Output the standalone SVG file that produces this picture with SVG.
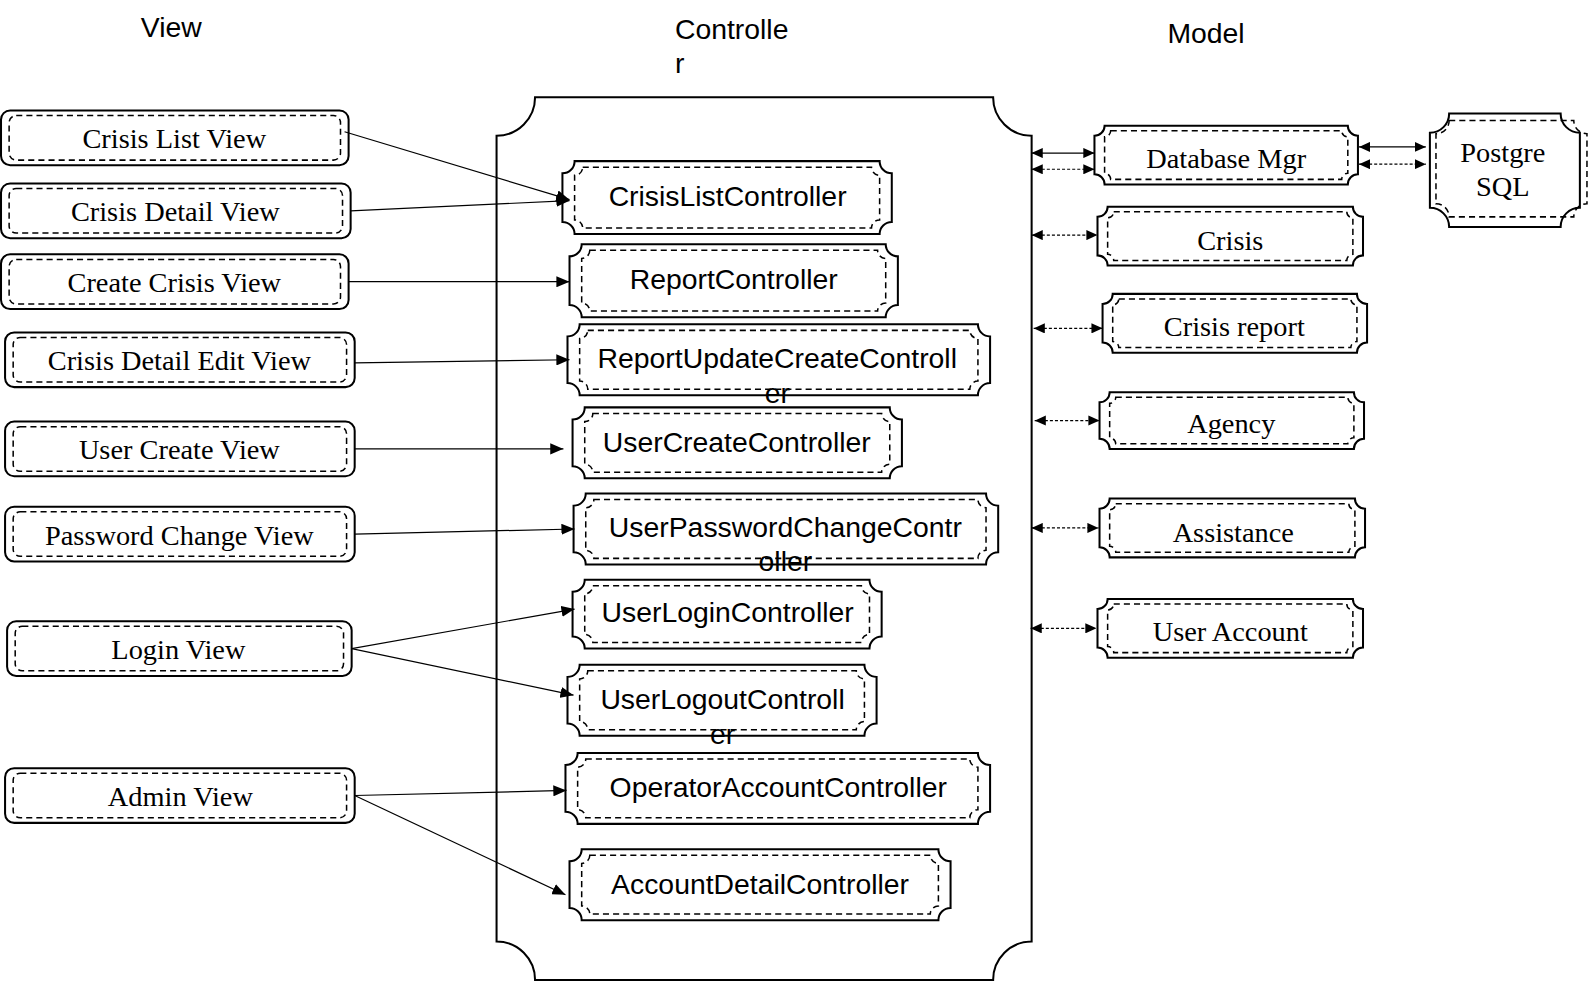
<svg xmlns="http://www.w3.org/2000/svg" width="1589" height="981" viewBox="0 0 1589 981">
<style>
.ob{fill:#fff;stroke:#000;stroke-width:2}
.ib{fill:none;stroke:#000;stroke-width:1.5;stroke-dasharray:6 4}
.st{font-family:"Liberation Serif",serif;font-size:28px;text-anchor:middle;dominant-baseline:central;fill:#000}
.ss{font-family:"Liberation Sans",sans-serif;font-size:28px;text-anchor:middle;dominant-baseline:central;fill:#000}
.hd{font-family:"Liberation Sans",sans-serif;font-size:28px;fill:#000}
.cn{stroke:#000;stroke-width:1.2;fill:none}
.dt{stroke-dasharray:3 2}
</style>
<defs>
<marker id="ah" viewBox="0 0 13 11" refX="13" refY="5.5" markerWidth="13" markerHeight="11" markerUnits="userSpaceOnUse" orient="auto"><path d="M0,0 L13,5.5 L0,11 Z" fill="#000"/></marker>
<marker id="am" viewBox="0 0 11 10" refX="11" refY="5" markerWidth="11" markerHeight="10" markerUnits="userSpaceOnUse" orient="auto-start-reverse"><path d="M0,0 L11,5 L0,10 Z" fill="#000"/></marker>
</defs>
<rect width="1589" height="981" fill="#fff"/>
<g transform="scale(1.01339)">
<g id="titles">
<text class="hd" x="139" y="37">View</text>
<text class="hd" x="666" y="38">Controlle</text>
<text class="hd" x="666" y="72">r</text>
<text class="hd" x="1152" y="42">Model</text>
</g>
<g id="controller-layer">
<path class="ob" d="M528,96 H980 A38,38 0 0 0 1018,134 V929 A38,38 0 0 0 980,967 H528 A38,38 0 0 0 490,929 V134 A38,38 0 0 0 528,96 Z"/>
</g>
<g id="view-crisis-list"><rect class="ob" x="1" y="109" width="343" height="54" rx="9"/><rect class="ib" x="9" y="114" width="327" height="44" rx="7"/><text class="st" x="172" y="137">Crisis List View</text></g>
<g id="view-crisis-detail"><rect class="ob" x="1" y="181" width="345" height="54" rx="9"/><rect class="ib" x="9" y="186" width="329" height="44" rx="7"/><text class="st" x="173" y="209">Crisis Detail View</text></g>
<g id="view-create-crisis"><rect class="ob" x="1" y="251" width="343" height="54" rx="9"/><rect class="ib" x="9" y="256" width="327" height="44" rx="7"/><text class="st" x="172" y="279">Create Crisis View</text></g>
<g id="view-crisis-detail-edit"><rect class="ob" x="5" y="328" width="345" height="54" rx="9"/><rect class="ib" x="13" y="333" width="329" height="44" rx="7"/><text class="st" x="177" y="356">Crisis Detail Edit View</text></g>
<g id="view-user-create"><rect class="ob" x="5" y="416" width="345" height="54" rx="9"/><rect class="ib" x="13" y="421" width="329" height="44" rx="7"/><text class="st" x="177" y="444">User Create View</text></g>
<g id="view-password-change"><rect class="ob" x="5" y="500" width="345" height="54" rx="9"/><rect class="ib" x="13" y="505" width="329" height="44" rx="7"/><text class="st" x="177" y="528">Password Change View</text></g>
<g id="view-login"><rect class="ob" x="7" y="613" width="340" height="54" rx="9"/><rect class="ib" x="15" y="618" width="324" height="44" rx="7"/><text class="st" x="176" y="641">Login View</text></g>
<g id="view-admin"><rect class="ob" x="5" y="758" width="345" height="54" rx="9"/><rect class="ib" x="13" y="763" width="329" height="44" rx="7"/><text class="st" x="178" y="786">Admin View</text></g>

<g id="ctrl-crisis-list"><path class="ob" d="M567,159 H868 A12,12 0 0 0 880,171 V219 A12,12 0 0 0 868,231 H567 A12,12 0 0 0 555,219 V171 A12,12 0 0 0 567,159 Z"/><path class="ib" d="M575,165 H860 A8,8 0 0 0 868,173 V217 A8,8 0 0 0 860,225 H575 A8,8 0 0 0 567,217 V173 A8,8 0 0 0 575,165 Z"/><text class="ss" x="718" y="193">CrisisListController</text></g>
<g id="ctrl-report"><path class="ob" d="M574,241 H874 A12,12 0 0 0 886,253 V301 A12,12 0 0 0 874,313 H574 A12,12 0 0 0 562,301 V253 A12,12 0 0 0 574,241 Z"/><path class="ib" d="M582,247 H866 A8,8 0 0 0 874,255 V299 A8,8 0 0 0 866,307 H582 A8,8 0 0 0 574,299 V255 A8,8 0 0 0 582,247 Z"/><text class="ss" x="724" y="275">ReportController</text></g>
<g id="ctrl-report-update-create"><path class="ob" d="M572,320 H965 A12,12 0 0 0 977,332 V378 A12,12 0 0 0 965,390 H572 A12,12 0 0 0 560,378 V332 A12,12 0 0 0 572,320 Z"/><path class="ib" d="M580,326 H957 A8,8 0 0 0 965,334 V376 A8,8 0 0 0 957,384 H580 A8,8 0 0 0 572,376 V334 A8,8 0 0 0 580,326 Z"/><text class="ss" x="767" y="353">ReportUpdateCreateControll</text><text class="ss" x="767" y="388">er</text></g>
<g id="ctrl-user-create"><path class="ob" d="M577,402 H878 A12,12 0 0 0 890,414 V460 A12,12 0 0 0 878,472 H577 A12,12 0 0 0 565,460 V414 A12,12 0 0 0 577,402 Z"/><path class="ib" d="M585,408 H870 A8,8 0 0 0 878,416 V458 A8,8 0 0 0 870,466 H585 A8,8 0 0 0 577,458 V416 A8,8 0 0 0 585,408 Z"/><text class="ss" x="727" y="436">UserCreateController</text></g>
<g id="ctrl-user-password-change"><path class="ob" d="M578,487 H973 A12,12 0 0 0 985,499 V545 A12,12 0 0 0 973,557 H578 A12,12 0 0 0 566,545 V499 A12,12 0 0 0 578,487 Z"/><path class="ib" d="M586,493 H965 A8,8 0 0 0 973,501 V543 A8,8 0 0 0 965,551 H586 A8,8 0 0 0 578,543 V501 A8,8 0 0 0 586,493 Z"/><text class="ss" x="775" y="520">UserPasswordChangeContr</text><text class="ss" x="775" y="554">oller</text></g>
<g id="ctrl-user-login"><path class="ob" d="M577,572 H858 A12,12 0 0 0 870,584 V628 A12,12 0 0 0 858,640 H577 A12,12 0 0 0 565,628 V584 A12,12 0 0 0 577,572 Z"/><path class="ib" d="M585,578 H850 A8,8 0 0 0 858,586 V626 A8,8 0 0 0 850,634 H585 A8,8 0 0 0 577,626 V586 A8,8 0 0 0 585,578 Z"/><text class="ss" x="718" y="604">UserLoginController</text></g>
<g id="ctrl-user-logout"><path class="ob" d="M572,656 H853 A12,12 0 0 0 865,668 V714 A12,12 0 0 0 853,726 H572 A12,12 0 0 0 560,714 V668 A12,12 0 0 0 572,656 Z"/><path class="ib" d="M580,662 H845 A8,8 0 0 0 853,670 V712 A8,8 0 0 0 845,720 H580 A8,8 0 0 0 572,712 V670 A8,8 0 0 0 580,662 Z"/><text class="ss" x="713" y="690">UserLogoutControll</text><text class="ss" x="713" y="724">er</text></g>
<g id="ctrl-operator-account"><path class="ob" d="M570,743 H965 A12,12 0 0 0 977,755 V801 A12,12 0 0 0 965,813 H570 A12,12 0 0 0 558,801 V755 A12,12 0 0 0 570,743 Z"/><path class="ib" d="M578,749 H957 A8,8 0 0 0 965,757 V799 A8,8 0 0 0 957,807 H578 A8,8 0 0 0 570,799 V757 A8,8 0 0 0 578,749 Z"/><text class="ss" x="768" y="777">OperatorAccountController</text></g>
<g id="ctrl-account-detail"><path class="ob" d="M574,838 H926 A12,12 0 0 0 938,850 V896 A12,12 0 0 0 926,908 H574 A12,12 0 0 0 562,896 V850 A12,12 0 0 0 574,838 Z"/><path class="ib" d="M582,844 H918 A8,8 0 0 0 926,852 V894 A8,8 0 0 0 918,902 H582 A8,8 0 0 0 574,894 V852 A8,8 0 0 0 582,844 Z"/><text class="ss" x="750" y="872">AccountDetailController</text></g>

<g id="model-database-mgr"><path class="ob" d="M1090,124 H1330 A10,10 0 0 0 1340,134 V172 A10,10 0 0 0 1330,182 H1090 A10,10 0 0 0 1080,172 V134 A10,10 0 0 0 1090,124 Z"/><path class="ib" d="M1096,129 H1324 A6,6 0 0 0 1330,135 V171 A6,6 0 0 0 1324,177 H1096 A6,6 0 0 0 1090,171 V135 A6,6 0 0 0 1096,129 Z"/><text class="st" x="1210" y="156">Database Mgr</text></g>
<g id="model-crisis"><path class="ob" d="M1093,204 H1335 A10,10 0 0 0 1345,214 V252 A10,10 0 0 0 1335,262 H1093 A10,10 0 0 0 1083,252 V214 A10,10 0 0 0 1093,204 Z"/><path class="ib" d="M1099,209 H1329 A6,6 0 0 0 1335,215 V251 A6,6 0 0 0 1329,257 H1099 A6,6 0 0 0 1093,251 V215 A6,6 0 0 0 1099,209 Z"/><text class="st" x="1214" y="237">Crisis</text></g>
<g id="model-crisis-report"><path class="ob" d="M1098,290 H1339 A10,10 0 0 0 1349,300 V338 A10,10 0 0 0 1339,348 H1098 A10,10 0 0 0 1088,338 V300 A10,10 0 0 0 1098,290 Z"/><path class="ib" d="M1104,295 H1333 A6,6 0 0 0 1339,301 V337 A6,6 0 0 0 1333,343 H1104 A6,6 0 0 0 1098,337 V301 A6,6 0 0 0 1104,295 Z"/><text class="st" x="1218" y="322">Crisis report</text></g>
<g id="model-agency"><path class="ob" d="M1095,387 H1336 A10,10 0 0 0 1346,397 V433 A10,10 0 0 0 1336,443 H1095 A10,10 0 0 0 1085,433 V397 A10,10 0 0 0 1095,387 Z"/><path class="ib" d="M1101,392 H1330 A6,6 0 0 0 1336,398 V432 A6,6 0 0 0 1330,438 H1101 A6,6 0 0 0 1095,432 V398 A6,6 0 0 0 1101,392 Z"/><text class="st" x="1215" y="418">Agency</text></g>
<g id="model-assistance"><path class="ob" d="M1095,492 H1337 A10,10 0 0 0 1347,502 V540 A10,10 0 0 0 1337,550 H1095 A10,10 0 0 0 1085,540 V502 A10,10 0 0 0 1095,492 Z"/><path class="ib" d="M1101,497 H1331 A6,6 0 0 0 1337,503 V539 A6,6 0 0 0 1331,545 H1101 A6,6 0 0 0 1095,539 V503 A6,6 0 0 0 1101,497 Z"/><text class="st" x="1217" y="525">Assistance</text></g>
<g id="model-user-account"><path class="ob" d="M1093,591 H1335 A10,10 0 0 0 1345,601 V639 A10,10 0 0 0 1335,649 H1093 A10,10 0 0 0 1083,639 V601 A10,10 0 0 0 1093,591 Z"/><path class="ib" d="M1099,596 H1329 A6,6 0 0 0 1335,602 V638 A6,6 0 0 0 1329,644 H1099 A6,6 0 0 0 1093,638 V602 A6,6 0 0 0 1099,596 Z"/><text class="st" x="1214" y="623">User Account</text></g>
<g id="model-postgresql"><path class="ob" d="M1430,112 H1540 A19,19 0 0 0 1559,131 V205 A19,19 0 0 0 1540,224 H1430 A19,19 0 0 0 1411,205 V131 A19,19 0 0 0 1430,112 Z"/><path class="ib" d="M1430,119 H1553 A13,13 0 0 0 1566,132 V201 A13,13 0 0 0 1553,214 H1430 A13,13 0 0 0 1417,201 V132 A13,13 0 0 0 1430,119 Z"/><text class="st" x="1483" y="150">Postgre</text><text class="st" x="1483" y="184">SQL</text></g>

<g id="connectors">
<line class="cn" x1="340" y1="130" x2="562" y2="197" marker-end="url(#ah)"/>
<line class="cn" x1="346" y1="208" x2="562" y2="198" marker-end="url(#ah)"/>
<line class="cn" x1="344" y1="278" x2="562" y2="278" marker-end="url(#ah)"/>
<line class="cn" x1="350" y1="358" x2="562" y2="355" marker-end="url(#ah)"/>
<line class="cn" x1="350" y1="443" x2="556" y2="443" marker-end="url(#ah)"/>
<line class="cn" x1="350" y1="527" x2="567" y2="522" marker-end="url(#ah)"/>
<line class="cn" x1="347" y1="640" x2="567" y2="601" marker-end="url(#ah)"/>
<line class="cn" x1="347" y1="640" x2="566" y2="686" marker-end="url(#ah)"/>
<line class="cn" x1="350" y1="785" x2="559" y2="780" marker-end="url(#ah)"/>
<line class="cn" x1="350" y1="785" x2="558" y2="883" marker-end="url(#ah)"/>
<line class="cn" x1="1018" y1="151" x2="1080" y2="151" marker-start="url(#am)" marker-end="url(#am)"/>
<line class="cn dt" x1="1018" y1="167" x2="1080" y2="167" marker-start="url(#am)" marker-end="url(#am)"/>
<line class="cn" x1="1341" y1="145" x2="1407" y2="145" marker-start="url(#am)" marker-end="url(#am)"/>
<line class="cn dt" x1="1341" y1="162" x2="1407" y2="162" marker-start="url(#am)" marker-end="url(#am)"/>
<line class="cn dt" x1="1018" y1="232" x2="1083" y2="232" marker-start="url(#am)" marker-end="url(#am)"/>
<line class="cn dt" x1="1020" y1="324" x2="1088" y2="324" marker-start="url(#am)" marker-end="url(#am)"/>
<line class="cn dt" x1="1021" y1="415" x2="1085" y2="415" marker-start="url(#am)" marker-end="url(#am)"/>
<line class="cn dt" x1="1018" y1="521" x2="1084" y2="521" marker-start="url(#am)" marker-end="url(#am)"/>
<line class="cn dt" x1="1017" y1="620" x2="1082" y2="620" marker-start="url(#am)" marker-end="url(#am)"/>
</g>
</g>
</svg>
